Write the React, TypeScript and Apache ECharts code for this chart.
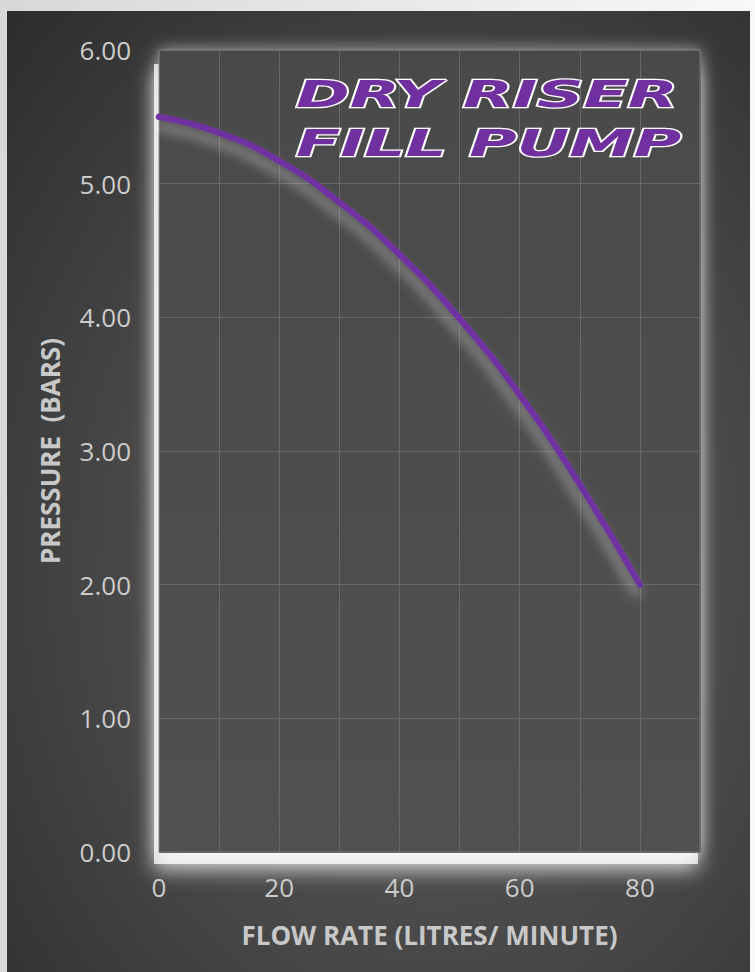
import React, { useEffect, useRef } from "react";
import * as echarts from "echarts";

const flowRates = [0, 10, 20, 30, 40, 50, 60, 70, 80];
const pressures = [5.5, 5.38, 5.17, 4.86, 4.47, 3.99, 3.42, 2.75, 2.0];
const xTickLabels = ["0", "20", "40", "60", "80"];
const titleLines = ["DRY RISER", "FILL PUMP"];

export default function App() {
  const ref = useRef<HTMLDivElement>(null);
  useEffect(() => {
    if (!ref.current) return;
    const chart = echarts.init(ref.current, null, { renderer: "svg" });
    const W = 755, H = 972;
    const gl = 159, gr = 700, gt = 50, gb = 852;
    chart.setOption({
      animation: false,
      graphic: [
        {
          type: "rect", z: -100, silent: true,
          shape: { x: 0, y: 0, width: W, height: H },
          style: { fill: new echarts.graphic.LinearGradient(0, 0, 1, 0, [
            { offset: 0, color: "#d8d8d8" }, { offset: 1, color: "#f8f8f8" }]) },
        },
        {
          type: "rect", z: -99, silent: true,
          shape: { x: 7, y: 11, width: 743, height: H - 11 },
          style: { fill: new echarts.graphic.RadialGradient(0.58, 0.58, 0.8, [
            { offset: 0, color: "#5a5a5a" }, { offset: 0.55, color: "#474747" }, { offset: 1, color: "#2e2e2e" }]) },
        },
        {
          type: "rect", z: -98, silent: true,
          shape: { x: gl - 5, y: gt + 14, width: gr - gl + 3, height: gb - gt - 2 },
          style: {
            fill: "rgba(255,255,255,0.75)",
            shadowColor: "rgba(255,255,255,1)", shadowBlur: 20,
            shadowOffsetX: 0, shadowOffsetY: 6,
          },
        },
        {
          type: "rect", z: -97, silent: true,
          shape: { x: gl, y: gt, width: gr - gl, height: gb - gt },
          style: {
            fill: new echarts.graphic.LinearGradient(0, 0, 0, 1, [
              { offset: 0, color: "#4a4a4a" }, { offset: 1, color: "#515151" }]),
            stroke: "#7a7a7a", lineWidth: 1,
            shadowColor: "rgba(255,255,255,0.55)", shadowBlur: 16,
          },
        },
        ...titleLines.map((t, i) => ({
          type: "text", z: 100, silent: true,
          x: 296, y: 76 + i * 49, scaleX: 1.75, scaleY: 1,
          style: {
            text: t, fontFamily: "DejaVu Sans", fontWeight: "bold", fontStyle: "italic",
            fontSize: 37, fill: "#7030A0", stroke: "#ffffff", lineWidth: 2.5,
            textVerticalAlign: "top", verticalAlign: "top",
          },
        })),
      ],
      grid: { left: gl, right: W - gr, top: gt, bottom: H - gb, containLabel: false },
      xAxis: {
        type: "value", min: 0, max: 90, interval: 10,
        name: "FLOW RATE (LITRES/ MINUTE)", nameLocation: "middle", nameGap: 70,
        nameTextStyle: { color: "#c8c8c8", fontSize: 26, fontWeight: "bold", fontFamily: "Open Sans" },
        axisLine: { show: false }, axisTick: { show: false },
        axisLabel: {
          color: "#cccccc", fontSize: 26, fontFamily: "Open Sans", margin: 22,
          formatter: (v: number) => (xTickLabels.includes(String(v)) ? String(v) : ""),
        },
        splitLine: { show: true, lineStyle: { color: "#686868", width: 1 } },
      },
      yAxis: {
        type: "value", min: 0, max: 6, interval: 1,
        name: "PRESSURE  (BARS)", nameLocation: "middle", nameGap: 96,
        nameTextStyle: { color: "#c8c8c8", fontSize: 26, fontWeight: "bold", fontFamily: "Open Sans" },
        axisLine: { show: false }, axisTick: { show: false },
        axisLabel: { color: "#cccccc", fontSize: 26, fontFamily: "Open Sans", margin: 28,
          formatter: (v: number) => v.toFixed(2) },
        splitLine: { show: true, lineStyle: { color: "#686868", width: 1 } },
      },
      series: [
        {
          type: "line", smooth: true, showSymbol: false, symbol: "none",
          data: flowRates.map((x, i) => [x, pressures[i]]),
          lineStyle: {
            color: "#7030A0", width: 6.5, cap: "round",
            shadowColor: "rgba(255,255,255,0.45)", shadowBlur: 12, shadowOffsetY: 9, shadowOffsetX: -3,
          },
        },
      ],
    });
    return () => chart.dispose();
  }, []);
  return <div ref={ref} style={{ position: "absolute", left: 0, top: 0, width: 755, height: 972 }} />;
}
